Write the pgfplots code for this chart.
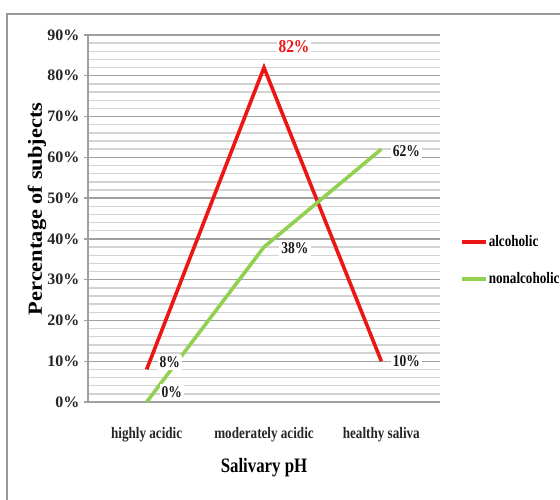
\documentclass[border=0pt]{standalone}
\usepackage{pgfplots}
\pgfplotsset{compat=1.18}
\usepackage{fontspec}
\setmainfont{Liberation Serif}
\newfontfamily\cf{Liberation Serif}[FakeStretch=0.82]
\newfontfamily\cg{Liberation Serif}[FakeStretch=0.86]
\newfontfamily\tf{Liberation Serif}[FakeStretch=1.0]
\newfontfamily\yf{Liberation Serif}[FakeStretch=1.12]
\definecolor{alcred}{HTML}{EE1515}
\definecolor{nongreen}{HTML}{92D050}
\definecolor{majgrid}{HTML}{A0A0A0}
\definecolor{mingrid}{HTML}{D3D3D3}
\pgfplotsset{
  lab/.style 2 args={draw=none, mark=none, forget plot,
    nodes near coords={\pgfmathprintnumber{\pgfplotspointmeta}\%},
    point meta=y,
    every node near coord/.style={anchor=center, xshift=#1, yshift=#2, fill=white,
      inner sep=2pt, text=black!90, font=\cf\bfseries\fontsize{16.5}{18}\selectfont}},
}

\begin{document}
\begin{tikzpicture}[x=1pt,y=1pt]
\useasboundingbox (0,0) rectangle (560,499);
\draw[gray!80, line width=1.6pt] (7,-2) -- (7,485) -- (562,485);
\begin{axis}[
  at={(88pt,97pt)}, anchor=south west,
  scale only axis, width=352pt, height=367pt,
  xmin=-0.5, xmax=2.5, ymin=0, ymax=90,
  clip=false,
  /pgf/number format/assume math mode=true,
  axis x line=bottom, axis y line=left,
  axis line style={-, majgrid, line width=1.4pt},
  xtick={0,1,2},
  xticklabels={highly acidic, moderately acidic, healthy saliva},
  xtick style={draw=none},
  ytick={0,10,...,90},
  yticklabel={\pgfmathprintnumber{\tick}\%},
  minor y tick num=4,
  tick align=outside,
  major tick length=4pt, minor tick length=0pt,
  ytick style={majgrid, line width=1.4pt},
  ymajorgrids, yminorgrids,
  major grid style={majgrid, line width=1.4pt},
  minor grid style={mingrid, line width=1.4pt},
  xticklabel style={font=\cf\bfseries\fontsize{16}{18}\selectfont, text=black!85, yshift=-18pt},
  yticklabel style={font=\tf\bfseries\fontsize{16}{18}\selectfont, text=black!85, xshift=-1pt},
  xlabel={Salivary pH},
  xlabel style={at={(axis description cs:0.5,-0.18)}, anchor=center, font=\cf\bfseries\fontsize{20.5}{23}\selectfont},
  ylabel={Percentage of subjects},
  ylabel style={at={(axis description cs:-0.145,0.526)}, anchor=center, font=\yf\bfseries\fontsize{20}{23}\selectfont},
  legend style={at={(axis description cs:1.0568,0.3856)}, anchor=west, draw=none, fill=none,
    font=\cf\bfseries\fontsize{16}{18}\selectfont, row sep=22pt, inner sep=0pt,
    nodes={inner sep=1pt}},
  legend cell align=left,
  legend image code/.code={\draw[#1] (0pt,0pt) -- (24pt,0pt);},
]
\addplot[alcred, line width=3.6pt, mark=none] coordinates {(0,8) (1,82) (2,10)};
\addlegendentry{alcoholic}
\addplot[nongreen, line width=3.6pt, mark=none] coordinates {(0,0) (1,38) (2,62)};
\addlegendentry{nonalcoholic}
% data labels
\addplot[lab={23pt}{7pt}] coordinates {(0,8)};
\addplot[lab={25pt}{10pt}] coordinates {(0,0)};
\addplot[lab={31pt}{-1pt}] coordinates {(1,38)};
\addplot[lab={25pt}{-2pt}] coordinates {(2,62)};
\addplot[lab={25pt}{0pt}] coordinates {(2,10)};
\addplot[lab={30pt}{21pt}, every node near coord/.append style={text=alcred, font=\cg\bfseries\fontsize{18}{20}\selectfont}] coordinates {(1,82)};
\end{axis}
\end{tikzpicture}
\end{document}
